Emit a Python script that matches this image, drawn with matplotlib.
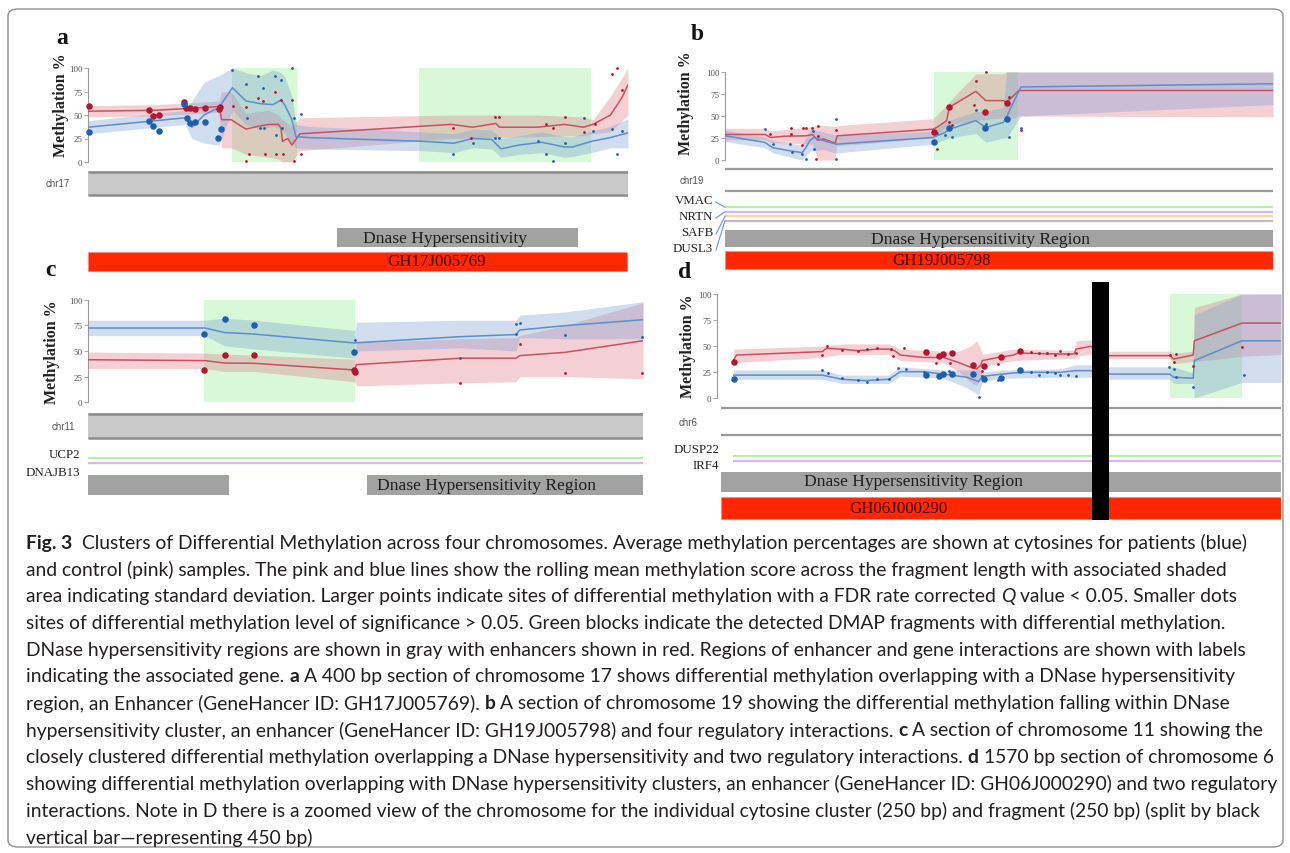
import matplotlib
matplotlib.use('Agg')
import matplotlib.pyplot as plt
from matplotlib.patches import Rectangle, FancyBboxPatch
from matplotlib.lines import Line2D

W, H = 1290, 854
fig = plt.figure(figsize=(W / 100, H / 100), dpi=100)
fig.patch.set_facecolor('white')

SERIF = ['Liberation Serif', 'DejaVu Serif']
SANS = ['Liberation Sans', 'DejaVu Sans']
CAP = ['Lato', 'DejaVu Sans']

RED_PT, BLUE_PT = '#b3172f', '#1d5fae'
RED_LN, BLUE_LN = '#c9505f', '#5d8dcc'
RED_BAND, BLUE_BAND, GREEN = '#e07a88', '#7b9fd1', '#9ef09e'
YTICKS = [0, 25, 50, 75, 100]

# ---------------------------------------------------------------- panel a data (bp, %)
a_len = 400
a_red_x = [0, 49, 75, 97, 99, 106, 117, 126, 134, 141, 143, 144, 148, 151, 157, 269, 285, 302, 305, 333, 353, 367, 374, 387, 393, 396, 400]
a_red_y = [54, 55, 57, 59, 45, 45, 35, 38, 40, 40, 36, 22, 25, 18, 30, 40, 37, 41, 37, 37, 40, 37, 40, 50, 63, 70, 82]
a_redband_x = [0, 49, 75, 97, 99, 106, 117, 134, 141, 144, 151, 157, 269, 333, 367, 374, 387, 400]
a_redband_lo = [48, 49, 51, 53, 15, 15, 8, 5, 3, 0, 0, 12, 25, 27, 28, 30, 32, 50]
a_redband_hi = [60, 61, 63, 65, 75, 75, 52, 55, 50, 45, 38, 47, 50, 50, 48, 45, 70, 100]
a_blue_x = [0, 72, 77, 86, 97, 107, 117, 128, 137, 143, 146, 151, 154, 163, 248, 271, 285, 299, 306, 319, 336, 353, 359, 373, 387, 400]
a_blue_y = [37, 47, 37, 50, 58, 79, 65, 62, 61, 66, 60, 45, 27, 26, 22, 20, 25, 24, 14, 18, 21, 16, 16, 22, 26, 31]
a_blueband_x = [0, 72, 77, 86, 97, 107, 117, 128, 137, 143, 146, 151, 154, 163, 248, 271, 285, 299, 306, 319, 336, 353, 359, 373, 387, 400]
a_blueband_lo = [30, 40, 25, 20, 18, 55, 40, 35, 38, 35, 30, 20, 15, 14, 12, 10, 15, 14, 5, 8, 10, 5, 6, 10, 15, 15]
a_blueband_hi = [44, 55, 65, 85, 92, 100, 95, 92, 98, 95, 90, 70, 40, 38, 32, 30, 35, 34, 25, 28, 32, 27, 27, 33, 38, 46]
a_sig_red_x = [0.6, 45.5, 48, 52.9, 70.8, 72.5, 75.3, 79.3, 86.4, 96.7, 98.1]
a_sig_red_y = [60, 55.5, 49, 50, 63.6, 57, 57, 56, 57, 56, 59]
a_sig_blue_x = [0.6, 45.5, 48.3, 52.9, 71.1, 73.1, 75.9, 79, 86.4, 96.4, 98.6]
a_sig_blue_y = [32, 44, 38, 33, 62, 47, 42, 43, 43, 26, 35]
a_ns_red_x = [107.2, 117.1, 126.2, 129.4, 138.2, 142.7, 151.2, 119.4, 130.8, 139, 144.4, 117.1, 152.4, 157.5, 270.1, 283.7, 301.4, 304.8, 338.9, 344.3, 353.1, 367.3, 375.8, 387.8, 391.5, 395.7]
a_ns_red_y = [60, 59, 68, 65, 75, 66, 66, 9, 9, 9, 9, 1, 1, 9, 36, 26, 48, 48, 40, 36, 48, 32, 40, 94, 100, 77]
a_ns_blue_x = [106.6, 117.1, 126.2, 129.4, 138.2, 142.7, 151.2, 118, 127.1, 130.5, 139, 143.6, 152.4, 157.5, 270.1, 284.9, 301.4, 304.8, 333.2, 338.9, 344.6, 353.1, 367.3, 374.4, 387.8, 391.5, 395.7]
a_ns_blue_y = [98, 83, 92, 79, 92, 87, 100, 47, 36, 36, 29, 36, 47, 51, 9, 20, 26, 26, 22, 9, 1, 20, 47, 33, 35, 8, 33]
a_dmap = [(106.6, 154.7), (245.5, 372.5)]
a_dnase = (184.4, 363.0)
a_enh = (0, 399)

# ---------------------------------------------------------------- panel b data
b_len = 500
b_red_x = [0, 36.4, 41.7, 54.2, 73.8, 79.9, 84.5, 89.9, 100.6, 102.3, 189.7, 193.3, 202.2, 204.7, 228.9, 237.9, 253.9, 256.8, 268.2, 500]
b_red_y = [29, 29, 25.6, 27, 27.5, 29, 22.5, 24, 19, 27.5, 35, 37, 44.7, 60, 78, 67.5, 67.5, 65.6, 79, 79]
b_redband_x = [0, 36, 42, 80, 85, 100, 102, 190, 204, 215, 229, 254, 257, 268, 500]
b_redband_lo = [23, 23, 20, 18, 0, 0, 16, 25, 40, 42, 45, 48, 45, 50, 49]
b_redband_hi = [36, 36, 33, 38, 40, 38, 39, 47, 65, 80, 98, 98, 100, 100, 100]
b_blue_x = [0, 36.4, 43.5, 61.3, 70.3, 73.8, 77.4, 80.9, 89.9, 101.3, 189.7, 193.3, 200.4, 204.7, 228.9, 237.9, 253.9, 256.8, 261, 270, 500]
b_blue_y = [27.5, 20, 14, 10, 8.4, 14, 22, 25.6, 22, 18, 25.6, 27.5, 31, 35, 44.7, 37, 42.7, 48.5, 60, 83, 86.6]
b_blueband_x = [0, 36, 44, 70, 78, 90, 101, 190, 204, 229, 238, 254, 257, 270, 500]
b_blueband_lo = [21, 14, 8, 0, 10, 12, 8, 18, 25, 30, 20, 25, 25, 50, 63]
b_blueband_hi = [34, 26, 22, 17, 35, 32, 28, 33, 45, 55, 55, 60, 100, 100, 100]
b_sig_red_x = [190.8, 204.7, 236.8, 257.5]
b_sig_red_y = [32, 60, 55, 65]
b_sig_blue_x = [190.8, 204.7, 236.8, 257.5]
b_sig_blue_y = [20, 36, 36, 46.5]
b_ns_red_x = [40.7, 60.6, 60.6, 71.3, 73.8, 79.2, 84.5, 84.5, 70.3, 82.7, 101.3, 193.3, 204, 207.5, 227.2, 228.9, 237.9, 259.3, 270]
b_ns_red_y = [29, 36, 29, 36, 36, 36, 39, 27, 17, 1, 34, 12, 43, 40, 63, 90, 100, 72, 34]
b_ns_blue_x = [36.4, 43.5, 59.6, 61.3, 70.3, 73.8, 79.9, 81, 101.3, 101.3, 193.3, 200.4, 206.8, 228.9, 237.9, 259.3, 270]
b_ns_blue_y = [35, 18, 18, 9.5, 6.5, 1, 33, 12, 46.5, 1.5, 31, 28.6, 26.7, 57, 41, 26.7, 36]
b_dmap = [(190.8, 267.1)]
b_genes = ['VMAC', 'NRTN', 'SAFB', 'DUSL3']
b_gene_colors = ['#b9f0a8', '#d7b6f3', '#f6d4a2', '#bdbdbd']

# ---------------------------------------------------------------- panel c data
c_len = 300
c_blue_x = [0, 63.2, 73.8, 89.8, 144.1, 145.1, 201.5, 231.3, 233.4, 257.9, 300]
c_blue_y = [72.4, 72.4, 68, 66.5, 57.8, 58, 64, 66, 70.5, 74.7, 80.5]
c_blue_lo = [65, 65, 55, 52, 43, 50, 53, 50, 63, 62, 62]
c_blue_hi = [80, 80, 82, 80, 70, 78, 80, 80, 85, 88, 98]
c_red_x = [0, 63.2, 73.8, 89.8, 144.1, 145.1, 201.5, 231.3, 233.4, 257.9, 300]
c_red_y = [41.5, 40.6, 38.3, 38, 31.5, 36.7, 43, 43, 45.5, 48.7, 60]
c_red_lo = [33, 33, 30, 30, 20, 16, 19, 20, 25, 25, 23]
c_red_hi = [49, 48, 47, 46, 42, 58, 62, 63, 65, 75, 97]
c_sig_blue_x = [62.8, 73.8, 89.8, 143.6]
c_sig_blue_y = [67, 81, 75, 48.7]
c_sig_red_x = [62.8, 73.8, 89.8, 143.6, 144.5]
c_sig_red_y = [31, 46, 46.4, 31.5, 30]
c_ns_blue_x = [144.5, 201.1, 231.3, 233.6, 231.3, 257.9, 299.4]
c_ns_blue_y = [61, 43, 76, 77, 67, 65.6, 64]
c_ns_red_x = [201.1, 233.4, 257.9, 299.4]
c_ns_red_y = [19, 57, 28.6, 28.6]
c_dmap = [(62.8, 144.5)]
c_dnase = [(0, 76.2), (150.8, 300)]
c_genes = ['UCP2', 'DNAJB13']
c_gene_colors = ['#b9f0a8', '#d7b6f3']

# ---------------------------------------------------------------- panel d data
d_len = 578
d_red_x = [17.2, 20, 108, 112, 128, 144, 164, 176, 182, 188, 212, 232, 248, 260, 266, 270, 272, 288, 304, 310, 316, 352, 366, 368, 383.2, 402, 464, 468, 488, 489.2, 538, 578]
d_red_y = [37, 41.3, 44.6, 47.8, 47, 45.5, 47, 47, 45.5, 41.3, 39, 39, 34, 29.5, 28, 31, 36, 39, 41.3, 44, 43, 42.3, 42.3, 47, 49.7, 40.7, 40.7, 37.5, 41.3, 55, 72, 72]
d_redband_x = [17.2, 108, 128, 176, 188, 232, 248, 260, 266, 270, 272, 304, 352, 366, 368, 383, 402, 464, 468, 488, 489.2, 538, 578]
d_redband_lo = [34, 39, 42, 42, 36, 34, 25, 15, 12, 18, 30, 36, 38, 38, 40, 42, 38, 38, 33, 35, 35, 40, 42]
d_redband_hi = [47, 50, 52, 52, 47, 45, 45, 50, 55, 48, 42, 47, 46, 46, 55, 56, 45, 45, 43, 45, 87, 100, 100]
d_blue_x = [17.2, 108, 128, 152, 176, 182, 188, 212, 232, 256, 268, 272, 292, 312, 352, 368, 383, 402, 464, 468, 488, 489.2, 538, 578]
d_blue_y = [22, 22, 18, 16.7, 18, 21.5, 25.3, 25.3, 23, 20, 15.7, 20.8, 23, 24.7, 24.7, 26.3, 26.3, 23, 23, 20, 19, 36, 55, 55]
d_blueband_x = [17.2, 108, 128, 176, 188, 232, 256, 268, 272, 292, 352, 368, 383, 402, 464, 468, 488, 489.2, 538, 578]
d_blueband_lo = [18, 18, 14, 14, 21, 19, 10, 3, 16, 19, 20, 20, 20, 18, 18, 14, 14, 0, 15, 15]
d_blueband_hi = [27, 27, 22, 22, 30, 27, 27, 28, 25, 27, 28, 32, 32, 30, 30, 30, 24, 80, 100, 100]
d_sig_red_x = [17.2, 214, 227.2, 232, 240.8, 262, 273.2, 291.2, 310.8]
d_sig_red_y = [35, 44, 40, 42, 43, 32, 31, 39, 45.5]
d_sig_blue_x = [17.2, 214, 227.2, 232, 240.8, 262, 273.2, 291.2, 310.8]
d_sig_blue_y = [18, 22, 21.5, 23, 23, 23, 18, 19, 27]
d_ns_red_x = [108, 113.2, 128, 144, 154, 164, 178, 192, 180, 224, 238.4, 272, 288, 322, 330, 338, 346, 352, 360, 368, 464, 468, 470, 488, 538]
d_ns_red_y = [41, 50, 46, 45.5, 47, 47.8, 47, 48, 40, 34, 34, 26, 33, 44, 43, 43, 41, 45, 42, 43, 41, 35, 42, 30.5, 48.7]
d_ns_blue_x = [108, 114, 128, 144, 154, 164, 176, 185.2, 194, 212, 238, 268, 272, 288, 322, 330, 338, 346, 352, 360, 368, 463.2, 468, 470, 488, 540]
d_ns_blue_y = [27, 24, 19, 17, 15, 18, 18, 29, 28, 25, 26, 0.6, 21, 17, 25, 22, 25, 24, 22, 22, 21, 29.5, 28, 20, 11, 22]
d_dmap = [(464, 538)]
d_break = (384, 402)
d_genes = ['DUSP22', 'IRF4']
d_gene_colors = ['#b9f0a8', '#d7b6f3']


# ---------------------------------------------------------------- helpers
def add_ax(x0, y0, x1, y1):
    return fig.add_axes([x0 / W, 1 - y1 / H, (x1 - x0) / W, (y1 - y0) / H])


def ftext(x, y, s, **kw):
    return fig.text(x / W, 1 - y / H, s, **kw)


def meth_axes(x0, y100, x1, y0, length):
    ax = add_ax(x0, y100, x1, y0)
    ax.set_xlim(0, length)
    ax.set_ylim(0, 100)
    ax.patch.set_visible(False)
    for s in ['top', 'right', 'bottom']:
        ax.spines[s].set_visible(False)
    ax.spines['left'].set_color('#9a9a9a')
    ax.spines['left'].set_linewidth(0.8)
    ax.set_xticks([])
    ax.set_yticks(YTICKS)
    ax.set_yticklabels([str(t) for t in YTICKS], fontsize=6.5, family=SERIF, color='#555555')
    ax.tick_params(axis='y', length=3, width=0.6, color='#9a9a9a', pad=1)
    return ax


def track_axes(x0, x1, length):
    ax = fig.add_axes([x0 / W, 0, (x1 - x0) / W, 1])
    ax.set_xlim(0, length)
    ax.set_ylim(H, 0)
    ax.axis('off')
    ax.patch.set_visible(False)
    return ax


def draw_meth(ax, dmap, rbx, rlo, rhi, bbx, blo, bhi, rx, ry, bx, by,
              srx, sry, sbx, sby, nrx, nry, nbx, nby):
    for s, e in dmap:
        ax.axvspan(s, e, ymin=0, ymax=1, color=GREEN, alpha=0.4, lw=0, zorder=1)
    ax.fill_between(rbx, rlo, rhi, color=RED_BAND, alpha=0.35, lw=0, zorder=2)
    ax.fill_between(bbx, blo, bhi, color=BLUE_BAND, alpha=0.35, lw=0, zorder=2)
    ax.plot(rx, ry, color=RED_LN, lw=1.1, zorder=3)
    ax.plot(bx, by, color=BLUE_LN, lw=1.1, zorder=3)
    ax.scatter(nrx, nry, s=4, color=RED_PT, lw=0, zorder=4, clip_on=False)
    ax.scatter(nbx, nby, s=4, color=BLUE_PT, lw=0, zorder=4, clip_on=False)
    ax.scatter(srx, sry, s=22, color=RED_PT, lw=0, zorder=5, clip_on=False)
    ax.scatter(sbx, sby, s=22, color=BLUE_PT, lw=0, zorder=5, clip_on=False)


def box(ax, x0, x1, ytop, ybot, fc, ec=None, lw=0):
    ax.add_patch(Rectangle((x0, ytop), x1 - x0, ybot - ytop, fc=fc,
                           ec=ec if ec else fc, lw=lw, zorder=1))


def chr_box(ax, x0, x1, ytop, ybot):
    box(ax, x0, x1, ytop, ybot, '#c9c9c9')
    ax.plot([x0, x1], [ytop + 1, ytop + 1], color='#8d8d8d', lw=1.8, solid_capstyle='butt')
    ax.plot([x0, x1], [ybot - 1, ybot - 1], color='#8d8d8d', lw=1.8, solid_capstyle='butt')


def hline(ax, x0, x1, y, color, lw=1.6):
    ax.plot([x0, x1], [y, y], color=color, lw=lw, solid_capstyle='butt')


# ---------------------------------------------------------------- border
fig.patches.append(FancyBboxPatch((8 / W, 1 - 848 / H), 1275 / W, 838 / H,
                                  boxstyle='round,pad=0,rounding_size=0.008',
                                  transform=fig.transFigure, fc='none', ec='#8f8f8f', lw=1.0))

ylab_kw = dict(rotation=90, ha='center', va='center', fontsize=11.5, fontweight='bold', family=SERIF, color='#222222')
plab_kw = dict(ha='center', va='center', fontsize=17, fontweight='bold', family=SERIF, color='#111111')
gene_kw = dict(ha='right', va='center', fontsize=9.3, family=SERIF, color='#222222')
chr_kw = dict(ha='center', va='center', fontsize=7, family=SANS, color='#555555')
dn_kw = dict(ha='center', va='center', fontsize=12.6, family=SERIF, color='#1e1e1e')
enh_kw = dict(ha='center', va='center', fontsize=12.2, family=SERIF, color='#3d0505')
DN_GRAY = '#a2a2a2'
ENH_RED = '#ff2600'

# ---------------------------------------------------------------- panel a
axa = meth_axes(88, 69, 628, 163, a_len)
draw_meth(axa, a_dmap, a_redband_x, a_redband_lo, a_redband_hi, a_blueband_x, a_blueband_lo, a_blueband_hi,
          a_red_x, a_red_y, a_blue_x, a_blue_y, a_sig_red_x, a_sig_red_y, a_sig_blue_x, a_sig_blue_y,
          a_ns_red_x, a_ns_red_y, a_ns_blue_x, a_ns_blue_y)
ta = track_axes(88, 628, a_len)
chr_box(ta, 0, a_len, 172, 197)
box(ta, a_dnase[0], a_dnase[1], 229, 248, DN_GRAY)
ta.text(a_dnase[0] + 0.45 * (a_dnase[1] - a_dnase[0]), 239, 'Dnase Hypersensitivity', **dn_kw)
box(ta, a_enh[0], a_enh[1], 252.7, 271.7, ENH_RED, ec='#ff8a80', lw=0.8)
ta.text(0.645 * a_len, 262.5, 'GH17J005769', **enh_kw)
ftext(58, 184, 'chr17', **chr_kw)
ftext(62, 38, 'a', **plab_kw)
ftext(61, 105, 'Methylation %', **ylab_kw)

# ---------------------------------------------------------------- panel b
axb = meth_axes(725, 73, 1273, 161, b_len)
draw_meth(axb, b_dmap, b_redband_x, b_redband_lo, b_redband_hi, b_blueband_x, b_blueband_lo, b_blueband_hi,
          b_red_x, b_red_y, b_blue_x, b_blue_y, b_sig_red_x, b_sig_red_y, b_sig_blue_x, b_sig_blue_y,
          b_ns_red_x, b_ns_red_y, b_ns_blue_x, b_ns_blue_y)
tb = track_axes(725, 1273, b_len)
hline(tb, 0, b_len, 170, '#9a9a9a', 1.6)
hline(tb, 0, b_len, 191.5, '#9a9a9a', 1.6)
b_line_y = [208.3, 212.7, 217.2, 221.6]
b_lab_y = [201, 217, 233, 249]
for g, c, ly, ty in zip(b_genes, b_gene_colors, b_line_y, b_lab_y):
    hline(tb, 0, b_len, ly, c, 1.6)
    ftext(713, ty, g, **gene_kw)
    fig.add_artist(Line2D([716 / W, 725 / W], [1 - (ty + 2) / H, 1 - ly / H], color='#6f95d6', lw=0.8))
box(tb, 0, b_len, 231, 248, DN_GRAY)
tb.text(0.466 * b_len, 239.5, 'Dnase Hypersensitivity Region', **dn_kw)
box(tb, 0, b_len, 252, 269.5, ENH_RED, ec='#ff8a80', lw=0.8)
tb.text(0.395 * b_len, 261, 'GH19J005798', **enh_kw)
ftext(692, 181, 'chr19', **chr_kw)
ftext(697, 35, 'b', **plab_kw)
ftext(686, 103, 'Methylation %', **ylab_kw)

# ---------------------------------------------------------------- panel c
axc = meth_axes(88, 300.7, 643, 403.3, c_len)
draw_meth(axc, c_dmap, c_red_x, c_red_lo, c_red_hi, c_blue_x, c_blue_lo, c_blue_hi,
          c_red_x, c_red_y, c_blue_x, c_blue_y, c_sig_red_x, c_sig_red_y, c_sig_blue_x, c_sig_blue_y,
          c_ns_red_x, c_ns_red_y, c_ns_blue_x, c_ns_blue_y)
tc = track_axes(88, 643, c_len)
chr_box(tc, 0, c_len, 413.5, 440)
for g, c, ly, ty in zip(c_genes, c_gene_colors, [459.3, 464.3], [455, 473]):
    hline(tc, 0, c_len, ly, c, 1.6)
    ftext(80, ty, g, **gene_kw)
for s, e in c_dnase:
    box(tc, s, e, 476, 496, DN_GRAY)
tc.text(0.718 * c_len, 486, 'Dnase Hypersensitivity Region', **dn_kw)
ftext(63, 427, 'chr11', **chr_kw)
ftext(50, 271, 'c', **plab_kw)
ftext(52, 352, 'Methylation %', **ylab_kw)

# ---------------------------------------------------------------- panel d
axd = meth_axes(717, 295, 1281, 399, d_len)
draw_meth(axd, d_dmap, d_redband_x, d_redband_lo, d_redband_hi, d_blueband_x, d_blueband_lo, d_blueband_hi,
          d_red_x, d_red_y, d_blue_x, d_blue_y, d_sig_red_x, d_sig_red_y, d_sig_blue_x, d_sig_blue_y,
          d_ns_red_x, d_ns_red_y, d_ns_blue_x, d_ns_blue_y)
td = track_axes(717, 1281, d_len)
hline(td, 4, d_len, 409.3, '#9a9a9a', 1.6)
hline(td, 4, d_len, 435.5, '#9a9a9a', 1.6)
for g, c, ly, ty in zip(d_genes, d_gene_colors, [456.7, 461.8], [450, 466]):
    hline(td, 16.5, d_len, ly, c, 1.6)
    ftext(719, ty, g, **gene_kw)
box(td, 4, d_len, 473, 493, DN_GRAY)
td.text(0.348 * d_len, 482.5, 'Dnase Hypersensitivity Region', **dn_kw)
box(td, 4, d_len, 498.3, 520, ENH_RED, ec='#ff8a80', lw=0.8)
td.text(0.322 * d_len, 509, 'GH06J000290', **enh_kw)
td.add_patch(Rectangle((d_break[0], 282.5), d_break[1] - d_break[0], 238.5, fc='black', ec='black', lw=0, zorder=10))
ftext(688, 423, 'chr6', **chr_kw)
ftext(685, 272, 'd', **plab_kw)
ftext(688, 346, 'Methylation %', **ylab_kw)

# ---------------------------------------------------------------- caption
B, I, N = 'bold', 'italic', 'normal'
caption_lines = [
    [('Fig. 3', B), ('  Clusters of Differential Methylation across four chromosomes. Average methylation percentages are shown at cytosines for patients (blue)', N)],
    [('and control (pink) samples. The pink and blue lines show the rolling mean methylation score across the fragment length with associated shaded', N)],
    [('area indicating standard deviation. Larger points indicate sites of differential methylation with a FDR rate corrected ', N), ('Q', I), (' value < 0.05. Smaller dots', N)],
    [('sites of differential methylation level of significance > 0.05. Green blocks indicate the detected DMAP fragments with differential methylation.', N)],
    [('DNase hypersensitivity regions are shown in gray with enhancers shown in red. Regions of enhancer and gene interactions are shown with labels', N)],
    [('indicating the associated gene. ', N), ('a', B), (' A 400 bp section of chromosome 17 shows differential methylation overlapping with a DNase hypersensitivity', N)],
    [('region, an Enhancer (GeneHancer ID: GH17J005769). ', N), ('b', B), (' A section of chromosome 19 showing the differential methylation falling within DNase', N)],
    [('hypersensitivity cluster, an enhancer (GeneHancer ID: GH19J005798) and four regulatory interactions. ', N), ('c', B), (' A section of chromosome 11 showing the', N)],
    [('closely clustered differential methylation overlapping a DNase hypersensitivity and two regulatory interactions. ', N), ('d', B), (' 1570 bp section of chromosome 6', N)],
    [('showing differential methylation overlapping with DNase hypersensitivity clusters, an enhancer (GeneHancer ID: GH06J000290) and two regulatory', N)],
    [('interactions. Note in D there is a zoomed view of the chromosome for the individual cytosine cluster (250 bp) and fragment (250 bp) (split by black', N)],
    [('vertical bar\u2014representing 450 bp)', N)],
]

renderer = fig.canvas.get_renderer()


def _kw(style, size):
    kw = dict(fontsize=size, family=CAP, color='#231f20')
    if style == B:
        kw['fontweight'] = 'bold'
    if style == I:
        kw['fontstyle'] = 'italic'
    return kw


def _w(s, style, size):
    t = fig.text(0, 0, s, **_kw(style, size))
    w = t.get_window_extent(renderer).width
    t.remove()
    return w


def adv(s, style, size):
    return _w('|' + s + '|', style, size) - _w('||', style, size)


def line_width(segs, size):
    return sum(adv(s, st, size) for s, st in segs)


cap_size = 10 * 1224 / line_width(caption_lines[0], 10)
cap_x0, cap_y0, cap_dy = 26, 543, 26.8
for i, segs in enumerate(caption_lines):
    x = cap_x0
    y = cap_y0 + i * cap_dy
    for s, st in segs:
        lead = len(s) - len(s.lstrip(' '))
        trail = len(s) - len(s.rstrip(' '))
        core = s.strip(' ')
        sp = adv(' ', st, cap_size)
        x += lead * sp
        ftext(x, y, core, ha='left', va='center', **_kw(st, cap_size))
        x += adv(core, st, cap_size) + trail * sp

fig.savefig('out.png', dpi=100, facecolor='white')
